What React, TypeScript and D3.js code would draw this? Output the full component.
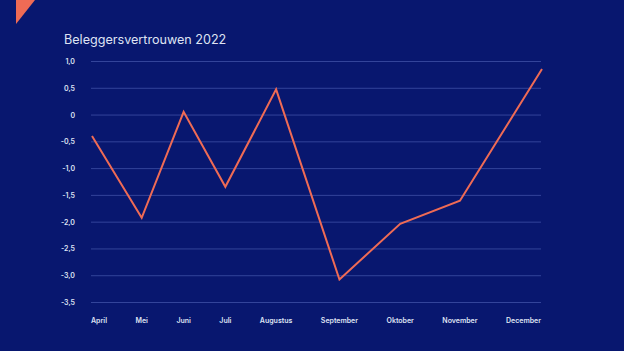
import React, { useEffect, useRef } from 'react';
import * as d3 from 'd3';

const months = ['April', 'Mei', 'Juni', 'Juli', 'Augustus', 'September', 'Oktober', 'November', 'December'];
const confidence = [-0.39, -1.92, 0.06, -1.34, 0.48, -3.07, -2.03, -1.6, 0.86];
const yTicks = [1.0, 0.5, 0, -0.5, -1.0, -1.5, -2.0, -2.5, -3.0, -3.5];
const title = 'Beleggersvertrouwen 2022';

const W = 624;
const H = 351;
const BG = '#08176f';
const TEXT = '#dfe3f3';
const GRID = '#33449a';
const LINE = '#ef6b55';

const App = () => {
  const svgRef = useRef<SVGSVGElement>(null);

  useEffect(() => {
    const svg = d3.select(svgRef.current);
    svg.selectAll('*').remove();

    const left = 91;
    const right = 541;

    svg.append('rect').attr('width', W).attr('height', H).attr('fill', BG);

    // corner accent
    svg.append('path')
      .attr('d', 'M16,0 L35,0 L16,24 Z')
      .attr('fill', LINE);

    svg.append('text')
      .attr('x', 64)
      .attr('y', 43.5)
      .attr('fill', TEXT)
      .style('font-family', 'Inter, sans-serif')
      .style('font-size', '12.6px')
      .text(title);

    const y = d3.scaleLinear().domain([-3.5, 1.0]).range([302.5, 61.5]);

    const fmt = (v: number) => (v === 0 ? '0' : v.toFixed(1).replace('.', ','));

    svg.append('g').selectAll('line')
      .data(yTicks)
      .enter()
      .append('line')
      .attr('x1', left)
      .attr('x2', right)
      .attr('y1', d => y(d))
      .attr('y2', d => y(d))
      .attr('stroke', GRID)
      .attr('stroke-width', 1);

    svg.append('g').selectAll('text')
      .data(yTicks)
      .enter()
      .append('text')
      .attr('x', 75)
      .attr('y', d => y(d) + 2.5)
      .attr('text-anchor', 'end')
      .attr('fill', TEXT)
      .style('font-family', 'Inter, sans-serif')
      .style('font-size', '7px')
      .style('font-weight', 600)
      .text(d => fmt(d));

    // month labels spread with equal gaps between them
    const labels = svg.append('g').selectAll('text')
      .data(months)
      .enter()
      .append('text')
      .attr('y', 323)
      .attr('fill', TEXT)
      .style('font-family', 'Inter, sans-serif')
      .style('font-size', '7px')
      .style('font-weight', 600)
      .text(d => d);

    const widths = labels.nodes().map(n => (n as SVGTextElement).getComputedTextLength());
    const gap = (right - left - d3.sum(widths)) / (months.length - 1);
    const starts: number[] = [];
    let cur = left;
    widths.forEach(w => { starts.push(cur); cur += w + gap; });
    labels.attr('x', (_, i) => starts[i]);

    const xRange = months.map((_, i) =>
      i === 0 ? left + 1 : i === months.length - 1 ? right + 1 : starts[i] + widths[i] / 2);
    const x = d3.scaleOrdinal<string, number>().domain(months).range(xRange);

    const line = d3.line<number>()
      .x((_, i) => x(months[i]))
      .y(d => y(d));

    svg.append('path')
      .datum(confidence)
      .attr('d', line)
      .attr('fill', 'none')
      .attr('stroke', LINE)
      .attr('stroke-width', 2)
      .attr('stroke-linejoin', 'miter');
  }, []);

  return <svg ref={svgRef} width={W} height={H} style={{ position: 'absolute', left: 0, top: 0 }} />;
};

export default App;
